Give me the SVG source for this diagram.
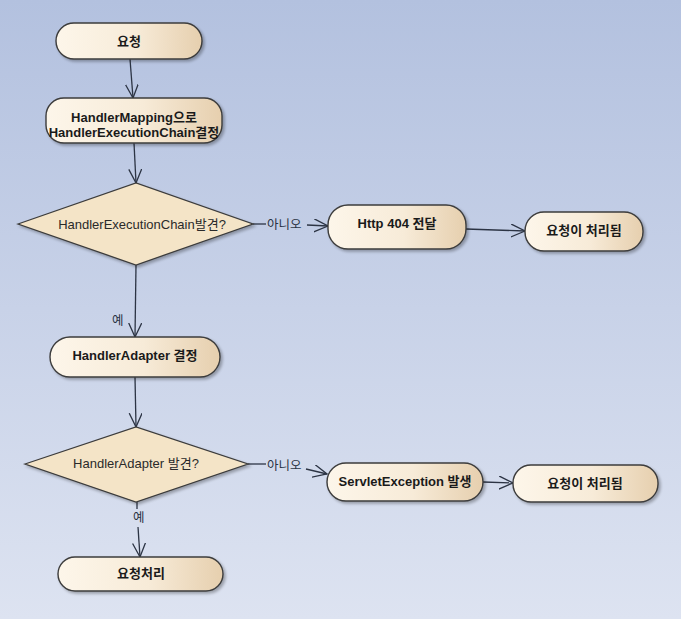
<svg xmlns="http://www.w3.org/2000/svg" width="681" height="619" viewBox="0 0 681 619">
<defs>
<linearGradient id="bg" x1="0" y1="0" x2="0" y2="1">
<stop offset="0" stop-color="#b3c1df"/>
<stop offset="1" stop-color="#dde3f1"/>
</linearGradient>
<linearGradient id="nodeFill" x1="0" y1="0" x2="1" y2="0">
<stop offset="0" stop-color="#fdf6ea"/>
<stop offset="0.55" stop-color="#f7ebd8"/>
<stop offset="1" stop-color="#e6cfae"/>
</linearGradient>
<filter id="shadow" x="-10%" y="-20%" width="130%" height="150%">
<feGaussianBlur in="SourceAlpha" stdDeviation="1.5"/>
<feOffset dx="2" dy="2" result="b"/>
<feComponentTransfer><feFuncA type="linear" slope="0.3"/></feComponentTransfer>
<feMerge><feMergeNode/><feMergeNode in="SourceGraphic"/></feMerge>
</filter>
<marker id="arrow" markerUnits="userSpaceOnUse" markerWidth="16" markerHeight="14" refX="14" refY="6.5" orient="auto">
<path d="M0,0 L14,6.5 L0,13" fill="none" stroke="#2c3444" stroke-width="1.3"/>
</marker>
</defs>
<style>
.node rect{fill:url(#nodeFill);stroke:#3c3c3c;stroke-width:1.4;filter:url(#shadow)}
.dec polygon{fill:#f4e4c7;stroke:#3c3c3c;stroke-width:1.3;filter:url(#shadow)}
.nt{font-family:"Liberation Sans","Noto Sans CJK KR",sans-serif;font-size:13px;font-weight:bold;fill:#1a1a1a;text-anchor:middle}
.dt{font-family:"Liberation Sans","Noto Sans CJK KR",sans-serif;font-size:13px;fill:#2a2a2a;text-anchor:middle}
.lbl{font-family:"Liberation Sans","Noto Sans CJK KR",sans-serif;font-size:12.5px;fill:#2a3444}
.conn line,.conn path{stroke:#2c3444;stroke-width:1.3;fill:none}
</style>
<rect x="0" y="0" width="681" height="619" fill="url(#bg)"/>

<g id="connectors" class="conn">
<line x1="130" y1="59" x2="133" y2="98" marker-end="url(#arrow)"/>
<line x1="134" y1="143" x2="136" y2="183" marker-end="url(#arrow)"/>
<line x1="253" y1="224" x2="266" y2="224"/>
<line x1="307" y1="225" x2="328" y2="226" marker-end="url(#arrow)"/>
<line x1="466" y1="229" x2="525" y2="231" marker-end="url(#arrow)"/>
<line x1="136" y1="265" x2="135" y2="337" marker-end="url(#arrow)"/>
<line x1="135" y1="377" x2="136" y2="427" marker-end="url(#arrow)"/>
<line x1="248" y1="464" x2="266" y2="464"/>
<line x1="306" y1="469" x2="327" y2="474" marker-end="url(#arrow)"/>
<line x1="483" y1="482" x2="513" y2="483" marker-end="url(#arrow)"/>
<line x1="137" y1="502" x2="137" y2="509"/>
<line x1="138" y1="527" x2="140" y2="557" marker-end="url(#arrow)"/>
<text class="lbl" x="267" y="229">아니오</text>
<text class="lbl" x="267" y="470">아니오</text>
<text class="lbl" x="112" y="325">예</text>
<text class="lbl" x="133" y="522">예</text>
</g>

<g id="n-request" class="node">
<rect x="56" y="23" width="146" height="36" rx="18"/>
<text class="nt" x="129" y="45.5">요청</text>
</g>
<g id="n-mapping" class="node">
<rect x="46" y="98" width="176" height="45" rx="18"/>
<text class="nt" x="134" y="121.5">HandlerMapping으로</text>
<text class="nt" x="134" y="137">HandlerExecutionChain결정</text>
</g>
<g id="d-chain" class="dec">
<polygon points="18,224 136,183 253,224 136,265"/>
<text class="dt" x="142" y="228.5">HandlerExecutionChain발견?</text>
</g>
<g id="n-http404" class="node">
<rect x="328" y="205" width="138" height="44" rx="20"/>
<text class="nt" x="397" y="227.5">Http 404 전달</text>
</g>
<g id="n-done1" class="node">
<rect x="525" y="212" width="118" height="39" rx="19"/>
<text class="nt" x="584" y="235">요청이 처리됨</text>
</g>
<g id="n-adapter" class="node">
<rect x="50" y="337" width="170" height="40" rx="20"/>
<text class="nt" x="135" y="359.5">HandlerAdapter 결정</text>
</g>
<g id="d-adapter" class="dec">
<polygon points="25,464 136,427 248,464 136,502"/>
<text class="dt" x="136" y="467.5">HandlerAdapter 발견?</text>
</g>
<g id="n-servlet" class="node">
<rect x="327" y="463" width="156" height="38" rx="19"/>
<text class="nt" x="405" y="485.5">ServletException 발생</text>
</g>
<g id="n-done2" class="node">
<rect x="513" y="465" width="145" height="37" rx="18"/>
<text class="nt" x="585" y="488">요청이 처리됨</text>
</g>
<g id="n-process" class="node">
<rect x="58" y="557" width="165" height="34" rx="17"/>
<text class="nt" x="141" y="578">요청처리</text>
</g>
</svg>
